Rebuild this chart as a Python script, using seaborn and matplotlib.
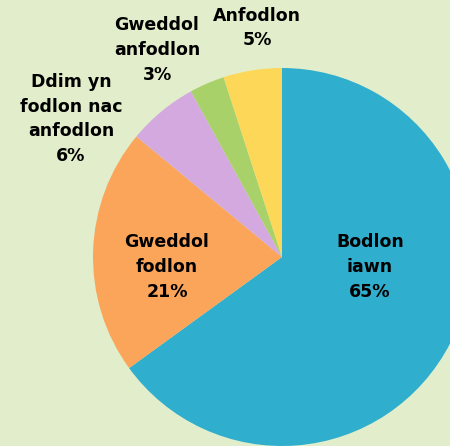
import matplotlib
matplotlib.use("Agg")
import matplotlib.pyplot as plt
import seaborn as sns

# data
categories = ["Bodlon\niawn", "Gweddol\nfodlon", "Ddim yn\nfodlon nac\nanfodlon", "Gweddol\nanfodlon", "Anfodlon"]
values = [65, 21, 6, 3, 5]
colors = ["#30aecd", "#fba55a", "#d3a9df", "#a9d16a", "#fdd858"]

# label centres in figure pixels (x, y from top)
label_pos = [(370, 267), (167, 267), (71, 119), (157, 50), (257, 28)]

bg = "#e2eecb"
W, H = 450, 446
cx, cy, R = 282, 257, 189

sns.set_style("white")
plt.rcParams['font.family'] = ['DejaVu Sans']

fig = plt.figure(figsize=(W / 100, H / 100), dpi=100, facecolor=bg)
ax = fig.add_axes([0, 0, 1, 1])
ax.set_facecolor(bg)

ax.pie(values, colors=colors, startangle=90, counterclock=False,
       radius=1, center=(0, 0), wedgeprops=dict(linewidth=0))

ax.set_xlim((0 - cx) / R, (W - cx) / R)
ax.set_ylim((cy - H) / R, (cy - 0) / R)
ax.set_aspect("auto")
ax.axis("off")

for cat, val, (px, py) in zip(categories, values, label_pos):
    fig.text(px / W, 1 - py / H, f"{cat}\n{val}%", ha="center", va="center",
             fontsize=12.5, fontweight="bold", color="black", linespacing=1.47)

fig.savefig("out.png", dpi=100, facecolor=bg)
